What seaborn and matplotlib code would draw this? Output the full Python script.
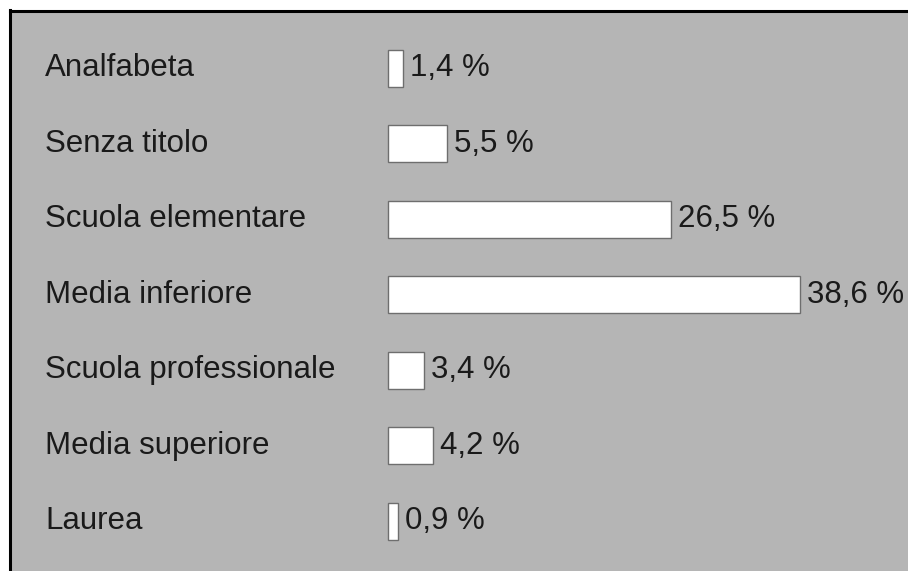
import matplotlib
matplotlib.use("Agg")
import matplotlib.pyplot as plt
import pandas as pd
import seaborn as sns

categories = [
    "Analfabeta",
    "Senza titolo",
    "Scuola elementare",
    "Media inferiore",
    "Scuola professionale",
    "Media superiore",
    "Laurea",
]
values = [1.4, 5.5, 26.5, 38.6, 3.4, 4.2, 0.9]
value_labels = ["1,4 %", "5,5 %", "26,5 %", "38,6 %", "3,4 %", "4,2 %", "0,9 %"]


def main():
    df = pd.DataFrame({"categoria": categories, "valore": values})

    sns.set_style("white")
    plt.rcParams["font.family"] = ["Liberation Sans", "DejaVu Sans"]

    fig = plt.figure(figsize=(9.08, 5.71), dpi=100, facecolor="white")
    ax = fig.add_axes([9.5 / 908, 0, 1 - 9.5 / 908, 1 - 10.5 / 571])
    ax.set_facecolor("#b5b5b5")

    sns.barplot(
        data=df,
        x="valore",
        y="categoria",
        order=categories,
        orient="h",
        color="white",
        saturation=1,
        edgecolor="#6e6e6e",
        linewidth=1,
        width=0.49,
        ax=ax,
    )

    ax.bar_label(ax.containers[0], labels=value_labels, padding=5,
                 fontsize=22.5, color="#1a1a1a")

    for i, name in enumerate(categories):
        ax.text(0.0395, i, name, transform=ax.get_yaxis_transform(),
                ha="left", va="center", fontsize=22.5, color="#1a1a1a")

    ax.set_xlim(-35.46, 48.72)
    ax.set_ylim(6.662, -0.762)
    ax.set_xticks([])
    ax.set_yticks([])
    ax.set_xlabel("")
    ax.set_ylabel("")

    for side in ["right", "bottom"]:
        ax.spines[side].set_visible(False)
    for side in ["left", "top"]:
        ax.spines[side].set_visible(True)
        ax.spines[side].set_color("black")
        ax.spines[side].set_linewidth(2.2)

    fig.savefig("out.png", dpi=100, facecolor="white")


if __name__ == "__main__":
    main()
